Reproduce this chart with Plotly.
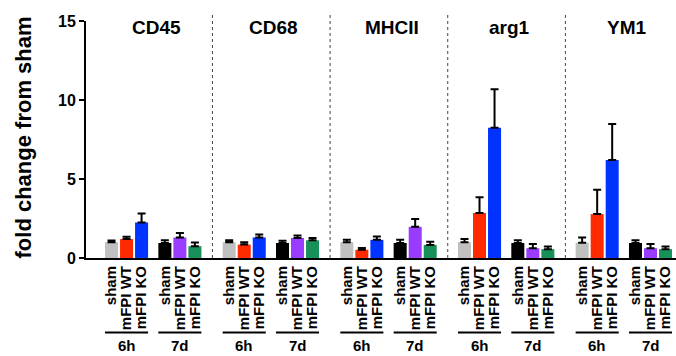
import plotly.graph_objects as go

genes = ["CD45", "CD68", "MHCII", "arg1", "YM1"]
series_names = ["sham 6h", "mFPI WT 6h", "mFPI KO 6h", "sham 7d", "mFPI WT 7d", "mFPI KO 7d"]
tick_labels = ["sham", "mFPI WT", "mFPI KO", "sham", "mFPI WT", "mFPI KO"]
time_labels = ["6h", "7d"]
colors = ["#c0c0c0", "#ff2a00", "#0033ff", "#000000", "#9a3cff", "#18905a"]

# values per series, across genes (CD45, CD68, MHCII, arg1, YM1)
sham_6h = [1.0, 1.0, 1.0, 1.0, 0.97]
wt_6h = [1.2, 0.85, 0.52, 2.85, 2.78]
ko_6h = [2.25, 1.3, 1.15, 8.25, 6.2]
sham_7d = [0.95, 0.95, 0.95, 0.95, 0.95]
wt_7d = [1.3, 1.27, 1.97, 0.62, 0.62]
ko_7d = [0.75, 1.12, 0.83, 0.56, 0.56]

err_sham_6h = [0.1, 0.13, 0.15, 0.2, 0.33]
err_wt_6h = [0.15, 0.15, 0.12, 1.0, 1.54]
err_ko_6h = [0.57, 0.18, 0.21, 2.43, 2.28]
err_sham_7d = [0.17, 0.14, 0.2, 0.17, 0.17]
err_wt_7d = [0.28, 0.16, 0.5, 0.26, 0.26]
err_ko_7d = [0.23, 0.15, 0.2, 0.17, 0.17]

values = [sham_6h, wt_6h, ko_6h, sham_7d, wt_7d, ko_7d]
errors = [err_sham_6h, err_wt_6h, err_ko_6h, err_sham_7d, err_wt_7d, err_ko_7d]

# layout of positions (in bar-slot units)
offsets = [0, 1, 2, 3.55, 4.55, 5.55]
period = 7.833
bar_w = 0.867
font_family = "Liberation Sans, Arial, sans-serif"

fig = go.Figure()
for s in range(6):
    xs = [g * period + offsets[s] for g in range(len(genes))]
    fig.add_trace(go.Bar(
        x=xs, y=values[s], name=series_names[s], width=bar_w,
        marker=dict(color=colors[s], line=dict(width=0)),
        error_y=dict(type="data", array=errors[s], arrayminus=[0] * len(genes),
                     symmetric=False, color="black", thickness=2, width=4),
        showlegend=False,
    ))

tickvals, ticktext = [], []
for g in range(len(genes)):
    for s in range(6):
        tickvals.append(g * period + offsets[s])
        ticktext.append(tick_labels[s])

plot_h = 237.0
shapes = []
annotations = []
for g, gene in enumerate(genes):
    base = g * period
    center = base + (offsets[0] + offsets[5]) / 2 + 0.2
    annotations.append(dict(x=center, y=(258 - 27) / plot_h, xref="x", yref="paper",
                            text=gene, showarrow=False, xanchor="center", yanchor="middle",
                            font=dict(family=font_family, size=19, color="black", weight="bold")))
    for t in range(2):
        x0 = base + offsets[3 * t] - bar_w / 2
        x1 = base + offsets[3 * t + 2] + bar_w / 2
        shapes.append(dict(type="line", xref="x", yref="paper", x0=x0, x1=x1,
                           y0=-(332.5 - 258) / plot_h, y1=-(332.5 - 258) / plot_h,
                           line=dict(color="black", width=2)))
        annotations.append(dict(x=(x0 + x1) / 2, y=-(345.5 - 258) / plot_h, xref="x", yref="paper",
                                text=time_labels[t], showarrow=False, xanchor="center", yanchor="middle",
                                font=dict(family=font_family, size=15, color="black", weight="bold")))
    if g < len(genes) - 1:
        xd = base + offsets[5] + 1.167
        shapes.append(dict(type="line", xref="x", yref="paper", x0=xd, x1=xd,
                           y0=0, y1=(258 - 14) / plot_h,
                           line=dict(color="#444444", width=1, dash="dot")))

annotations.append(dict(x=(23 - 86) / 590.0, y=(258 - 137.5) / plot_h, xref="paper", yref="paper",
                        text="fold change from sham", showarrow=False, textangle=-90,
                        xanchor="center", yanchor="middle",
                        font=dict(family=font_family, size=22, color="black", weight="bold")))

fig.update_layout(
    width=676, height=356,
    margin=dict(l=86, r=0, t=21, b=98),
    plot_bgcolor="white", paper_bgcolor="white",
    barmode="overlay",
    shapes=shapes, annotations=annotations,
    xaxis=dict(range=[-1.7, 37.58], tickvals=tickvals, ticktext=ticktext, tickangle=-90,
               ticks="", showline=True, linecolor="black", linewidth=2, showgrid=False,
               zeroline=False, automargin=False,
               tickfont=dict(family=font_family, size=15, color="black", weight="bold")),
    yaxis=dict(range=[0, 15], tickvals=[0, 5, 10, 15], ticks="outside", ticklen=5, tickwidth=2,
               tickcolor="black", showline=True, linecolor="black", linewidth=2, showgrid=False,
               zeroline=False, automargin=False,
               tickfont=dict(family=font_family, size=16, color="black", weight="bold")),
)

fig.write_html("out.html", config={"displayModeBar": False},
               post_script="document.body.style.margin='0px';")
